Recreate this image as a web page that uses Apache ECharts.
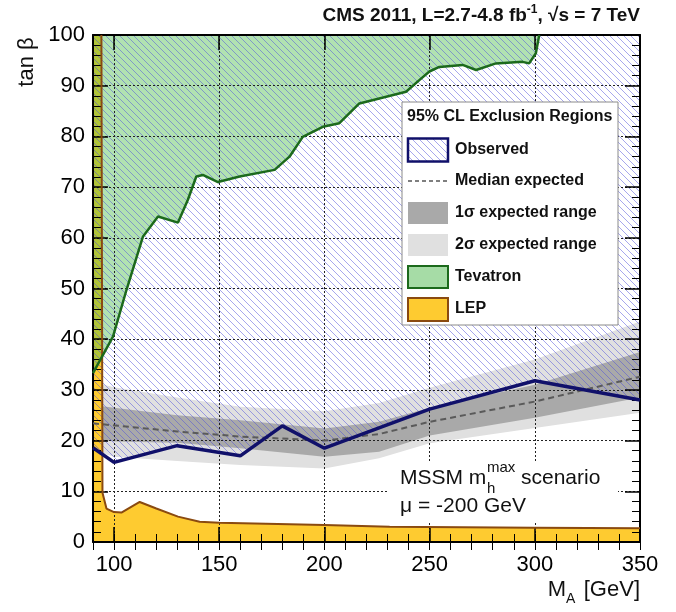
<!DOCTYPE html>
<html><head><meta charset="utf-8">
<script src="https://cdn.jsdelivr.net/npm/echarts@6/dist/echarts.min.js"></script>
<style>html,body{margin:0;padding:0;background:#fff}#c{width:676px;height:612px}</style>
</head><body><div id="c"></div>
<script>
// ---- data ----
const xTicks = [100, 150, 200, 250, 300, 350];
const yTicks = [0, 10, 20, 30, 40, 50, 60, 70, 80, 90, 100];
const xRange = [90, 350];
const yRange = [0, 100];

const obsX = [90, 100, 130, 160, 180, 200, 250, 300, 350];
const obsY = [18.6, 15.7, 19.0, 17.0, 22.9, 18.5, 26.2, 31.8, 28.0];

const expX   = [90, 100, 130, 160, 200, 226, 250, 300, 350];
const expMed = [23.4, 23.0, 21.8, 20.8, 20.0, 21.3, 23.7, 27.7, 32.6];
const exp1Lo = [20.3, 19.8, 19.6, 18.5, 16.8, 17.8, 21.0, 24.5, 28.5];
const exp1Hi = [27.0, 26.5, 25.0, 24.0, 22.4, 23.7, 26.5, 31.0, 37.5];
const exp2Lo = [18.0, 16.8, 16.0, 15.2, 14.5, 16.5, 19.5, 22.5, 25.5];
const exp2Hi = [31.5, 30.5, 28.5, 26.7, 25.8, 27.4, 30.4, 36.0, 43.5];

const tevX = [90, 99.5, 105.9, 113.7, 120.9, 130.4, 135.1, 139.1, 142.2, 149.4, 159.7, 176.3, 183.4, 189.7, 199.2, 207.1, 216.6, 238.8, 245.1, 249.9, 254.6, 265.7, 272.1, 281.5, 294.2, 297.3, 300.5, 302.1];
const tevY = [33.3, 40.5, 49.7, 60.2, 64.2, 63.0, 67.5, 72.1, 72.4, 71.0, 72.1, 73.4, 76.0, 79.9, 81.9, 82.6, 86.5, 88.8, 91.1, 92.8, 93.7, 94.1, 93.1, 94.4, 94.7, 94.4, 96.4, 100];

const lepX = [90, 94.0, 94.5, 96.4, 100, 103.5, 112.2, 120.1, 130.4, 140.7, 150, 200, 231, 300, 350];
const lepY = [100, 100, 9.7, 6.6, 5.9, 5.8, 7.9, 6.6, 5.0, 4.0, 3.8, 3.35, 3.0, 2.8, 2.7];

// ---- styles ----
const FONT = '"Liberation Sans", Arial, Helvetica, sans-serif';
function makeHatch(color, size, lw) {
  const c = document.createElement('canvas');
  c.width = c.height = size;
  const g = c.getContext('2d');
  g.strokeStyle = color; g.lineWidth = lw;
  g.beginPath();
  for (let k = -1; k <= 1; k++) { g.moveTo(k * size, 0); g.lineTo(k * size + size, size); }
  g.stroke();
  return c;
}
const hatch = { image: makeHatch('rgba(80,80,220,0.5)', 7, 1), repeat: 'repeat' };
const C_BAND2 = '#e0e0e0', C_BAND1 = '#a9a9a9';
const C_LEP = '#fecb30', C_LEP_LINE = '#8a4a10';
const C_TEV = 'rgba(70,185,70,0.42)', C_TEV_LINE = '#1c6a1c';
const C_OBS = '#10106a';

const zip = (xs, ys) => xs.map((x, i) => [x, ys[i]]);

function fillSeries(name, pts, style) {
  return {
    name, type: 'custom', z: 1, silent: true, clip: true,
    xAxisIndex: 0, yAxisIndex: 0,
    data: [pts[0]],
    renderItem: (params, api) => ({
      type: 'polygon',
      shape: { points: pts.map(p => api.coord(p)) },
      style
    })
  };
}
function lineSeries(name, data, ls, z) {
  return { name, type: 'line', data, showSymbol: false, silent: true, z,
    xAxisIndex: 0, yAxisIndex: 0, lineStyle: ls, clip: true, animation: false };
}

const band2Pts = zip(expX, exp2Hi).concat(zip(expX, exp2Lo).reverse());
const band1Pts = zip(expX, exp1Hi).concat(zip(expX, exp1Lo).reverse());
const lepPts = zip(lepX, lepY).concat([[xRange[1], yRange[0]], [xRange[0], yRange[0]]]);
const tevPts = zip(tevX, tevY).concat([[xRange[0], yRange[1]]]);
const obsPts = zip(obsX, obsY).concat([[xRange[1], yRange[1]], [xRange[0], yRange[1]]]);

const axLine = { show: true, onZero: false, lineStyle: { color: '#000', width: 2 } };
const gridLine = { show: true, lineStyle: { color: '#222', width: 1, type: [2, 2] } };

function majorX(pos, labels) {
  return { type: 'value', position: pos, min: xRange[0], max: xRange[1], z: 3,
    axisLine: axLine,
    axisTick: { show: true, inside: true, length: 15, customValues: xTicks, lineStyle: { color: '#000', width: 1.5 } },
    axisLabel: labels ? { show: true, customValues: xTicks, fontSize: 22, color: '#000', margin: 12, fontFamily: FONT } : { show: false },
    splitLine: labels ? gridLine : { show: false } };
}
function minorX(pos) {
  return { type: 'value', position: pos, min: xRange[0], max: xRange[1], interval: 10, z: 3,
    axisLine: { show: false },
    axisTick: { show: true, inside: true, length: 8, lineStyle: { color: '#000', width: 1 } },
    axisLabel: { show: false }, splitLine: { show: false } };
}
function yAx(pos, labels) {
  return { type: 'value', position: pos, min: yRange[0], max: yRange[1], interval: 10, z: 3,
    axisLine: axLine,
    axisTick: { show: true, inside: true, length: 15, lineStyle: { color: '#000', width: 1.5 } },
    minorTick: { show: true, splitNumber: 5, length: 8, lineStyle: { color: '#000', width: 1 } },
    axisLabel: labels ? { show: true, fontSize: 22, color: '#000', margin: 8, fontFamily: FONT } : { show: false },
    splitLine: labels ? gridLine : { show: false } };
}

// legend graphic
const LX = 408, LW = 40, TX = 455;
function lText(t, y, size) {
  return { type: 'text', x: TX, y, z: 21, style: { text: t, font: 'bold ' + (size || 16) + 'px ' + FONT, fill: '#111', verticalAlign: 'middle' } };
}
const graphic = [
  { type: 'rect', z: 20, shape: { x: 402, y: 102, width: 216, height: 223 }, style: { fill: '#fff', stroke: '#8a8a8a', lineWidth: 1 } },
  { type: 'text', x: 407, y: 117, z: 21, style: { text: '95% CL Exclusion Regions', font: 'bold 16px ' + FONT, fill: '#111', verticalAlign: 'middle' } },
  { type: 'rect', z: 21, shape: { x: LX, y: 138.5, width: LW, height: 23 }, style: { fill: hatch, stroke: C_OBS, lineWidth: 2.5 } },
  lText('Observed', 150),
  { type: 'line', z: 21, shape: { x1: LX, y1: 181, x2: LX + LW, y2: 181 }, style: { stroke: '#555', lineWidth: 1.5, lineDash: [4, 3] } },
  lText('Median expected', 181),
  { type: 'rect', z: 21, shape: { x: LX, y: 202, width: LW, height: 22 }, style: { fill: C_BAND1 } },
  lText('1\u03c3 expected range', 213),
  { type: 'rect', z: 21, shape: { x: LX, y: 234, width: LW, height: 22 }, style: { fill: C_BAND2 } },
  lText('2\u03c3 expected range', 245),
  { type: 'rect', z: 21, shape: { x: LX, y: 266, width: LW, height: 22 }, style: { fill: '#a6dca6', stroke: C_TEV_LINE, lineWidth: 2 } },
  lText('Tevatron', 277),
  { type: 'rect', z: 21, shape: { x: LX, y: 298, width: LW, height: 23 }, style: { fill: C_LEP, stroke: C_LEP_LINE, lineWidth: 2 } },
  lText('LEP', 309),
  // scenario box
  { type: 'rect', z: 20, shape: { x: 387, y: 463, width: 231, height: 59 }, style: { fill: '#fff' } },
  { type: 'text', x: 400, y: 478, z: 21, style: { text: 'MSSM m', font: '21px ' + FONT, fill: '#111', verticalAlign: 'middle' } },
  { type: 'text', x: 487, y: 468, z: 21, style: { text: 'max', font: '15px ' + FONT, fill: '#111', verticalAlign: 'middle' } },
  { type: 'text', x: 487, y: 489, z: 21, style: { text: 'h', font: '15px ' + FONT, fill: '#111', verticalAlign: 'middle' } },
  { type: 'text', x: 521, y: 478, z: 21, style: { text: 'scenario', font: '21px ' + FONT, fill: '#111', verticalAlign: 'middle' } },
  { type: 'text', x: 400, y: 506, z: 21, style: { text: '\u03bc = -200 GeV', font: '21px ' + FONT, fill: '#111', verticalAlign: 'middle' } },
  // axis titles
  { type: 'text', x: 27, y: 62, rotation: Math.PI / 2, z: 21, style: { text: 'tan \u03b2', font: '22px ' + FONT, fill: '#111', align: 'center', verticalAlign: 'middle' } },
  { type: 'text', x: 640, y: 590, z: 21, style: { text: '[GeV]', font: '22px ' + FONT, fill: '#111', align: 'right', verticalAlign: 'middle' } },
  { type: 'text', x: 566, y: 599, z: 21, style: { text: 'A', font: '14px ' + FONT, fill: '#111', align: 'left', verticalAlign: 'middle' } },
  { type: 'text', x: 566, y: 590, z: 21, style: { text: 'M', font: '22px ' + FONT, fill: '#111', align: 'right', verticalAlign: 'middle' } }
];

const chart = echarts.init(document.getElementById('c'), null, { renderer: 'canvas' });
chart.setOption({
  animation: false,
  backgroundColor: '#fff',
  textStyle: { fontFamily: FONT },
  title: {
    text: '{a|CMS 2011, L=2.7-4.8 fb}{s|-1}{a|, \u221as = 7 TeV}',
    right: 36, top: 4, padding: 0,
    textStyle: { rich: {
      a: { fontSize: 19, fontWeight: 'bold', color: '#111', fontFamily: FONT, lineHeight: 24 },
      s: { fontSize: 12, fontWeight: 'bold', color: '#111', fontFamily: FONT, verticalAlign: 'top', lineHeight: 24, padding: [0, 0, 10, 0] }
    } }
  },
  grid: { left: 93, right: 36, top: 35, bottom: 70, containLabel: false, outerBoundsMode: 'none' },
  xAxis: [majorX('bottom', true), minorX('bottom'), majorX('top', false), minorX('top')],
  yAxis: [yAx('left', true), yAx('right', false)],
  graphic,
  series: [
    fillSeries('2sigma', band2Pts, { fill: C_BAND2 }),
    fillSeries('1sigma', band1Pts, { fill: C_BAND1 }),
    fillSeries('LEP', lepPts, { fill: C_LEP }),
    fillSeries('Tevatron', tevPts, { fill: C_TEV }),
    fillSeries('Observed', obsPts, { fill: hatch }),
    lineSeries('Median', zip(expX, expMed), { color: '#5a5a5a', width: 2, type: [6, 4] }, 4),
    lineSeries('LEP line', zip(lepX, lepY).slice(1), { color: C_LEP_LINE, width: 2 }, 4),
    lineSeries('Tevatron line', zip(tevX, tevY), { color: C_TEV_LINE, width: 2.5 }, 4),
    lineSeries('Observed line', zip(obsX, obsY), { color: C_OBS, width: 3.5 }, 5)
  ]
});
</script>
</body></html>
